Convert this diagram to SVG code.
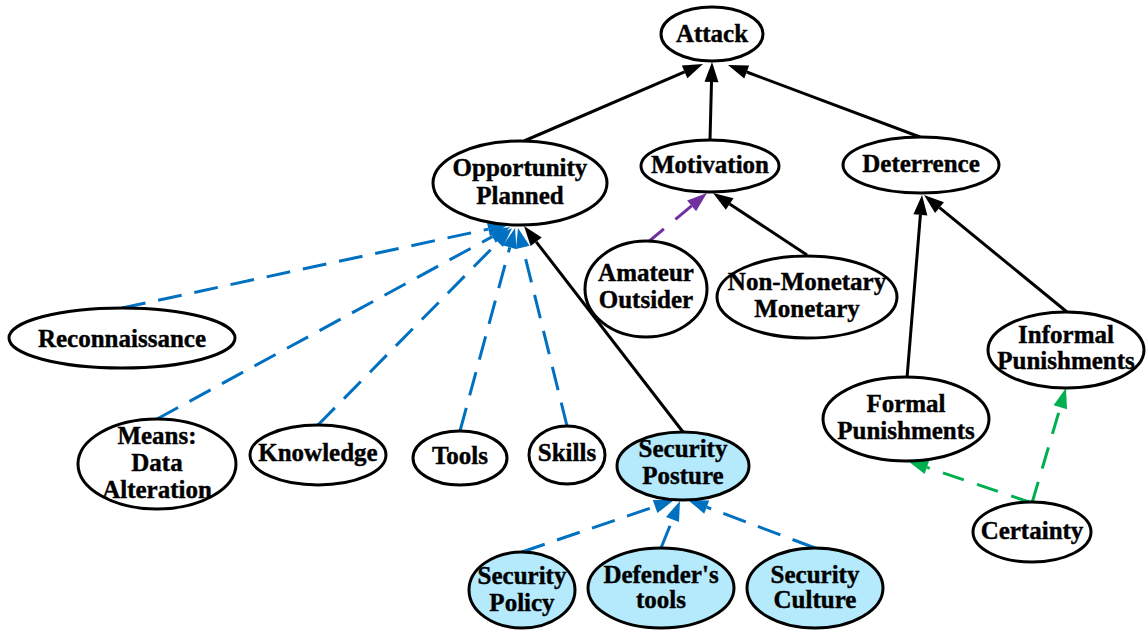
<svg xmlns="http://www.w3.org/2000/svg" width="1146" height="630" viewBox="0 0 1146 630">
  <style>
    .node ellipse { fill: #ffffff; stroke: #000000; stroke-width: 3; }
    .node.sec ellipse { fill: #b4eafc; }
    .node text { font-family: "Liberation Serif", "Times New Roman", serif; font-weight: bold; font-size: 25px; text-anchor: middle; fill: #000000; stroke: #000000; stroke-width: 0.4; }
    .edge { fill: none; stroke-width: 3; }
    .solid { stroke: #000000; marker-end: url(#arrow-black); }
    .blue { stroke: #0070c0; stroke-dasharray: 24 13; marker-end: url(#arrow-blue); }
    .purple { stroke: #7030a0; stroke-dasharray: 22 15; marker-end: url(#arrow-purple); }
    .green { stroke: #00b050; stroke-dasharray: 22 14; marker-end: url(#arrow-green); }
  </style>
  <defs>
    <!-- arrowheads: line ends at the base, the head extends 20px forward -->
    <marker id="arrow-black" markerUnits="userSpaceOnUse" markerWidth="20" markerHeight="14" refX="0" refY="7" orient="auto" overflow="visible">
      <path d="M0,0 L20,7 L0,14 z" fill="#000000"/>
    </marker>
    <marker id="arrow-blue" markerUnits="userSpaceOnUse" markerWidth="20" markerHeight="14" refX="0" refY="7" orient="auto" overflow="visible">
      <path d="M0,0 L20,7 L0,14 z" fill="#0070c0"/>
    </marker>
    <marker id="arrow-purple" markerUnits="userSpaceOnUse" markerWidth="20" markerHeight="14" refX="0" refY="7" orient="auto" overflow="visible">
      <path d="M0,0 L20,7 L0,14 z" fill="#7030a0"/>
    </marker>
    <marker id="arrow-green" markerUnits="userSpaceOnUse" markerWidth="20" markerHeight="14" refX="0" refY="7" orient="auto" overflow="visible">
      <path d="M0,0 L20,7 L0,14 z" fill="#00b050"/>
    </marker>
  </defs>
  <rect width="1146" height="630" fill="#ffffff"/>

  <g id="edges">
    <path class="edge solid" d="M524,141 L684.6,71.9"/>
    <path class="edge solid" d="M710,140 L711.5,82"/>
    <path class="edge solid" d="M920,137 L746.7,72"/>
    <path class="edge purple" d="M647,243 L691.6,205.8"/>
    <path class="edge solid" d="M807,255 L729.7,204"/>
    <path class="edge solid" d="M907,378 L920.4,214.9"/>
    <path class="edge solid" d="M1067,312 L939.5,207.7"/>
    <path class="edge green" d="M1032,503 L926.9,467.4"/>
    <path class="edge green" d="M1032,503 L1060.3,407.2"/>
    <path class="edge blue" d="M122,308 L488.4,229.1"/>
    <path class="edge blue" d="M157,419 L492.4,236.6"/>
    <path class="edge blue" d="M318,425 L498,242.2"/>
    <path class="edge blue" d="M460,431 L509.8,247.3"/>
    <path class="edge blue" d="M567,426 L522.8,247.4"/>
    <path class="edge solid" d="M683,432 L536.2,241.8"/>
    <path class="edge blue" d="M522,552 L655.1,506.5"/>
    <path class="edge blue" d="M661,548 L672.5,519.5"/>
    <path class="edge blue" d="M815,548 L706.7,507.1"/>
  </g>

  <g id="attack" class="node">
    <ellipse cx="712" cy="34" rx="51" ry="27"/>
    <text x="712" y="42">Attack</text>
  </g>
  <g id="opportunity" class="node">
    <ellipse cx="520" cy="183" rx="87" ry="42"/>
    <text x="520" y="176">Opportunity</text>
    <text x="520" y="204">Planned</text>
  </g>
  <g id="motivation" class="node">
    <ellipse cx="710" cy="166" rx="69" ry="26"/>
    <text x="710" y="173">Motivation</text>
  </g>
  <g id="deterrence" class="node">
    <ellipse cx="921" cy="165" rx="78" ry="28"/>
    <text x="921" y="172">Deterrence</text>
  </g>
  <g id="amateur" class="node">
    <ellipse cx="646" cy="289" rx="61" ry="48"/>
    <text x="646" y="281">Amateur</text>
    <text x="646" y="308">Outsider</text>
  </g>
  <g id="monetary" class="node">
    <ellipse cx="807" cy="297" rx="90" ry="41"/>
    <text x="807" y="290">Non-Monetary</text>
    <text x="807" y="317">Monetary</text>
  </g>
  <g id="reconnaissance" class="node">
    <ellipse cx="122" cy="338" rx="113" ry="30"/>
    <text x="122" y="347">Reconnaissance</text>
  </g>
  <g id="means" class="node">
    <ellipse cx="157" cy="464" rx="79" ry="45"/>
    <text x="157" y="444">Means:</text>
    <text x="157" y="471">Data</text>
    <text x="157" y="498">Alteration</text>
  </g>
  <g id="knowledge" class="node">
    <ellipse cx="318" cy="455" rx="68" ry="30"/>
    <text x="318" y="461">Knowledge</text>
  </g>
  <g id="tools" class="node">
    <ellipse cx="460" cy="458" rx="47" ry="27"/>
    <text x="460" y="464">Tools</text>
  </g>
  <g id="skills" class="node">
    <ellipse cx="567" cy="455" rx="38" ry="29"/>
    <text x="567" y="461">Skills</text>
  </g>
  <g id="security-posture" class="node sec">
    <ellipse cx="683" cy="466" rx="66" ry="34"/>
    <text x="683" y="457">Security</text>
    <text x="683" y="484">Posture</text>
  </g>
  <g id="security-policy" class="node sec">
    <ellipse cx="522" cy="590" rx="53" ry="38"/>
    <text x="522" y="584">Security</text>
    <text x="522" y="611">Policy</text>
  </g>
  <g id="defenders-tools" class="node sec">
    <ellipse cx="661" cy="588" rx="73" ry="40"/>
    <text x="661" y="583">Defender's</text>
    <text x="661" y="608">tools</text>
  </g>
  <g id="security-culture" class="node sec">
    <ellipse cx="815" cy="588" rx="68" ry="40"/>
    <text x="815" y="583">Security</text>
    <text x="815" y="608">Culture</text>
  </g>
  <g id="formal" class="node">
    <ellipse cx="906" cy="419" rx="83" ry="42"/>
    <text x="906" y="412">Formal</text>
    <text x="906" y="439">Punishments</text>
  </g>
  <g id="informal" class="node">
    <ellipse cx="1066" cy="350" rx="78" ry="38"/>
    <text x="1066" y="343">Informal</text>
    <text x="1066" y="369">Punishments</text>
  </g>
  <g id="certainty" class="node">
    <ellipse cx="1032" cy="532" rx="59" ry="30"/>
    <text x="1032" y="539">Certainty</text>
  </g>
</svg>
